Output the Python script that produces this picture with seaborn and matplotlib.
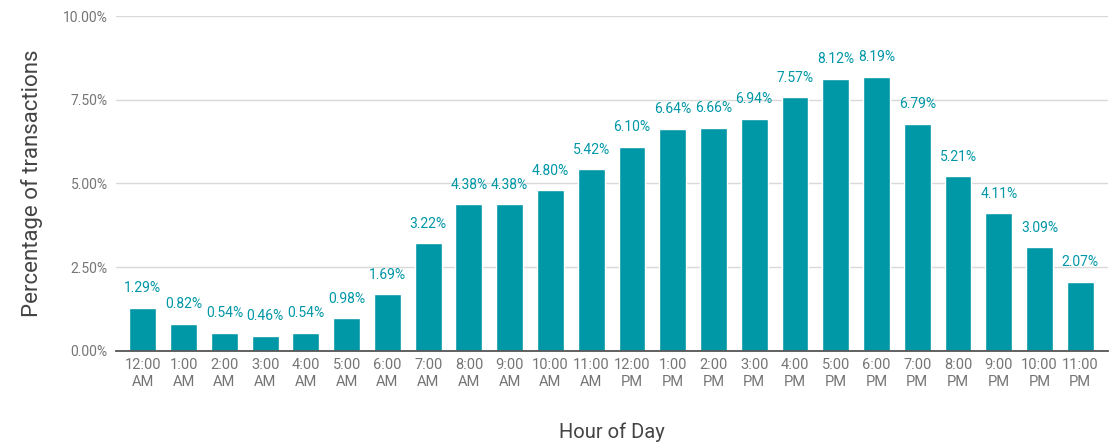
import matplotlib
matplotlib.use("Agg")
import matplotlib.pyplot as plt
import seaborn as sns
import pandas as pd
from matplotlib.ticker import FuncFormatter

hours = ["12:00\nAM", "1:00\nAM", "2:00\nAM", "3:00\nAM", "4:00\nAM", "5:00\nAM",
         "6:00\nAM", "7:00\nAM", "8:00\nAM", "9:00\nAM", "10:00\nAM", "11:00\nAM",
         "12:00\nPM", "1:00\nPM", "2:00\nPM", "3:00\nPM", "4:00\nPM", "5:00\nPM",
         "6:00\nPM", "7:00\nPM", "8:00\nPM", "9:00\nPM", "10:00\nPM", "11:00\nPM"]
pct = [1.29, 0.82, 0.54, 0.46, 0.54, 0.98, 1.69, 3.22, 4.38, 4.38, 4.80, 5.42,
       6.10, 6.64, 6.66, 6.94, 7.57, 8.12, 8.19, 6.79, 5.21, 4.11, 3.09, 2.07]
y_ticks = [0, 2.5, 5.0, 7.5, 10.0]

sns.set_theme(style="white")
plt.rcParams['font.family'] = ['Roboto', 'DejaVu Sans']

df = pd.DataFrame({"hour": hours, "pct": pct})

fig = plt.figure(figsize=(11.09, 4.42), dpi=100)
ax = fig.add_axes([0.1046, 0.2059, 0.8945, 0.7579])

bar_color = "#0097A7"
sns.barplot(data=df, x="hour", y="pct", color=bar_color, saturation=1,
            width=0.66, ax=ax, zorder=3)

for i, v in enumerate(pct):
    ax.annotate(f"{v:.2f}%", (i, v), xytext=(0, 9), textcoords="offset points",
                ha="center", va="bottom", color="#0097A7", fontsize=10)

ax.set_ylim(0, 10)
ax.set_xlim(-0.66, 23.68)
ax.set_yticks(y_ticks)
ax.yaxis.set_major_formatter(FuncFormatter(lambda v, p: f"{v:.2f}%"))
ax.grid(axis="y", color="#d9d9d9", linewidth=1, zorder=0)
ax.grid(axis="x", visible=False)
for s in ["top", "right", "left"]:
    ax.spines[s].set_visible(False)
ax.spines["bottom"].set_color("#555555")
ax.spines["bottom"].set_linewidth(1.3)
ax.spines["bottom"].set_zorder(4)
ax.tick_params(axis="both", length=0, colors="#757575")
ax.tick_params(axis="y", pad=6, labelsize=10)
ax.tick_params(axis="x", pad=5, labelsize=10.5)
for t in ax.get_xticklabels():
    t.set_linespacing(1.25)

ax.set_xlabel("Hour of Day", fontsize=14.5, color="#444444", labelpad=24)
ax.set_ylabel("Percentage of transactions", fontsize=16, color="#444444", labelpad=14)

fig.savefig("out.png", dpi=100)
